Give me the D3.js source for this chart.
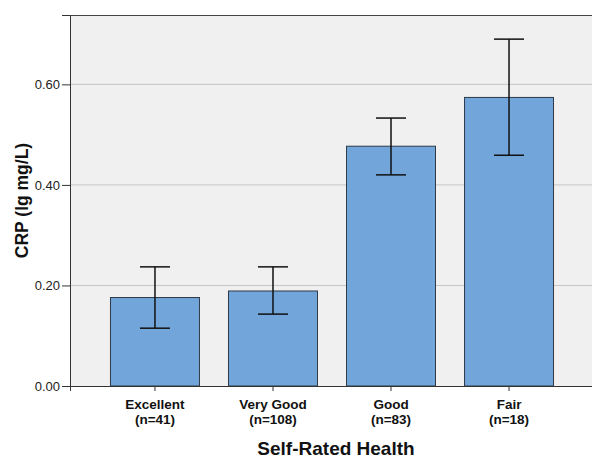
<!DOCTYPE html>
<html>
<head>
<meta charset="utf-8">
<script src="https://cdn.jsdelivr.net/npm/d3@7"></script>
<style>
  body { margin: 0; background: #fff; }
  svg { display: block; font-family: "Liberation Sans", Arial, sans-serif; }
</style>
</head>
<body>
<div id="chart"></div>
<script>
var categories = ["Excellent", "Very Good", "Good", "Fair"];
var counts = ["(n=41)", "(n=108)", "(n=83)", "(n=18)"];
var means = [0.176, 0.189, 0.477, 0.574];
var lower = [0.115, 0.143, 0.420, 0.459];
var upper = [0.237, 0.237, 0.533, 0.690];
var yTicks = [0, 0.2, 0.4, 0.6];

var width = 592, height = 458;
var margin = {top: 15, left: 70, bottom: 72};
var plotRight = 594;

var svg = d3.select("#chart").append("svg")
    .attr("width", width)
    .attr("height", height);

var x = d3.scaleBand()
    .domain(categories)
    .range([margin.left, plotRight])
    .paddingInner(0.246)
    .paddingOuter(0.343);

var y = d3.scaleLinear()
    .domain([0, 0.738])
    .range([height - margin.bottom, margin.top]);

// plot background
svg.append("rect")
    .attr("x", margin.left)
    .attr("y", margin.top)
    .attr("width", plotRight - margin.left)
    .attr("height", y(0) - margin.top)
    .attr("fill", "#f0f0f0");

// gridlines
svg.selectAll(".grid")
    .data(yTicks.slice(1))
    .enter()
    .append("line")
    .attr("x1", margin.left)
    .attr("x2", plotRight)
    .attr("y1", function (d) { return y(d); })
    .attr("y2", function (d) { return y(d); })
    .attr("stroke", "#c4c4c4")
    .attr("stroke-width", 1);

// top border
svg.append("line")
    .attr("x1", margin.left)
    .attr("x2", plotRight)
    .attr("y1", margin.top + 0.5)
    .attr("y2", margin.top + 0.5)
    .attr("stroke", "#444");

var data = categories.map(function (c, i) {
    return {cat: c, n: counts[i], mean: means[i], lo: lower[i], hi: upper[i]};
});

// bars
svg.selectAll(".bar")
    .data(data)
    .enter()
    .append("rect")
    .attr("x", function (d) { return x(d.cat); })
    .attr("y", function (d) { return y(d.mean); })
    .attr("width", x.bandwidth())
    .attr("height", function (d) { return y(0) - y(d.mean); })
    .attr("fill", "#72a5d9")
    .attr("stroke", "#2e3a48")
    .attr("stroke-width", 1);

// error bars
var cap = 15;
var eb = svg.selectAll(".err")
    .data(data)
    .enter()
    .append("g")
    .attr("stroke", "#111")
    .attr("stroke-width", 1.5);

eb.append("line")
    .attr("x1", function (d) { return x(d.cat) + x.bandwidth() / 2; })
    .attr("x2", function (d) { return x(d.cat) + x.bandwidth() / 2; })
    .attr("y1", function (d) { return y(d.lo); })
    .attr("y2", function (d) { return y(d.hi); });

eb.append("line")
    .attr("x1", function (d) { return x(d.cat) + x.bandwidth() / 2 - cap; })
    .attr("x2", function (d) { return x(d.cat) + x.bandwidth() / 2 + cap; })
    .attr("y1", function (d) { return y(d.hi); })
    .attr("y2", function (d) { return y(d.hi); });

eb.append("line")
    .attr("x1", function (d) { return x(d.cat) + x.bandwidth() / 2 - cap; })
    .attr("x2", function (d) { return x(d.cat) + x.bandwidth() / 2 + cap; })
    .attr("y1", function (d) { return y(d.lo); })
    .attr("y2", function (d) { return y(d.lo); });

// y axis
var yAxis = svg.append("g")
    .attr("transform", "translate(" + margin.left + ",0)")
    .call(d3.axisLeft(y).tickValues(yTicks).tickFormat(d3.format(".2f"))
        .tickSizeOuter(0).tickSize(8).tickPadding(2));
yAxis.select(".domain").attr("stroke", "#333");
yAxis.selectAll(".tick line").attr("stroke", "#333");
yAxis.selectAll("text")
    .attr("font-size", 13)
    .attr("fill", "#222")
    .style("font-family", "Liberation Sans, Arial, sans-serif");

// x axis
var xAxis = svg.append("g")
    .attr("transform", "translate(0," + y(0) + ")")
    .call(d3.axisBottom(x).tickSizeOuter(0).tickSize(5).tickFormat(""));
xAxis.select(".domain").attr("stroke", "#333");
xAxis.selectAll(".tick line").attr("stroke", "#333");

var labels = svg.selectAll(".xlab")
    .data(data)
    .enter()
    .append("text")
    .attr("text-anchor", "middle")
    .attr("font-size", 13.5)
    .attr("font-weight", "bold")
    .attr("fill", "#111")
    .attr("transform", function (d) {
        return "translate(" + (x(d.cat) + x.bandwidth() / 2) + ",409)";
    });
labels.append("tspan").attr("x", 0).attr("y", 0).text(function (d) { return d.cat; });
labels.append("tspan").attr("x", 0).attr("y", 15).text(function (d) { return d.n; });

// axis titles
svg.append("text")
    .attr("x", 336)
    .attr("y", 455)
    .attr("text-anchor", "middle")
    .attr("font-size", 19)
    .attr("font-weight", "bold")
    .attr("fill", "#111")
    .text("Self-Rated Health");

svg.append("text")
    .attr("transform", "translate(28," + ((margin.top + y(0)) / 2) + ") rotate(-90)")
    .attr("text-anchor", "middle")
    .attr("font-size", 17.5)
    .attr("font-weight", "bold")
    .attr("fill", "#111")
    .text("CRP (lg mg/L)");
</script>
</body>
</html>
